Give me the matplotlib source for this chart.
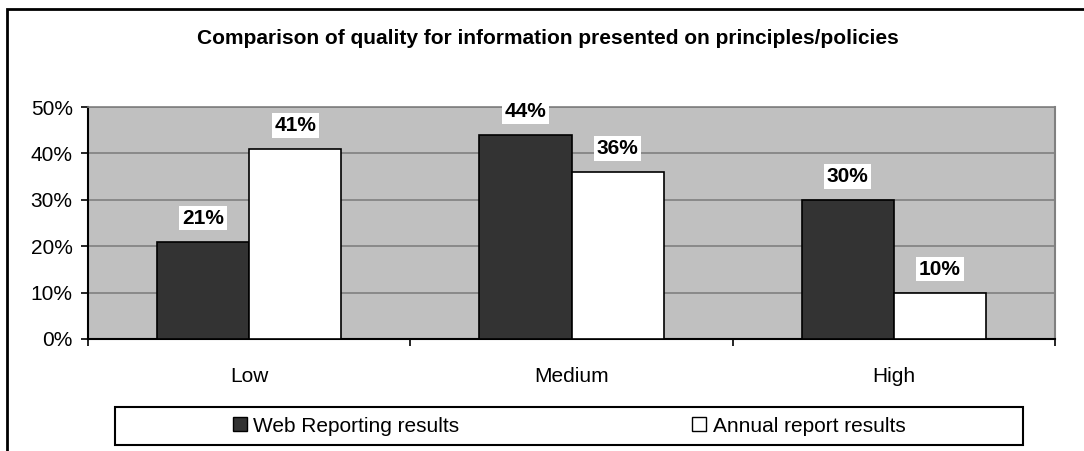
import matplotlib

matplotlib.use("Agg")
import matplotlib.pyplot as plt
import numpy as np
from matplotlib.patches import Patch, Rectangle

# Данные с графика
categories = ["Low", "Medium", "High"]
web_reporting = [21, 44, 30]
annual_report = [41, 36, 10]
series_names = ["Web Reporting results", "Annual report results"]
title = "Comparison of quality for information presented on principles/policies"

plt.rcParams["font.family"] = ["Liberation Sans", "DejaVu Sans"]
FS = 15

W, H = 1084, 451
fig = plt.figure(figsize=(W / 100, H / 100), dpi=100)

# внешняя рамка (справа и снизу уходит за край)
fig.patches.append(Rectangle((7 / W, -0.2), 1.2, 1 - 9 / H + 0.2, transform=fig.transFigure,
                             fill=False, edgecolor="black", linewidth=2))

ax = fig.add_axes([88 / W, 1 - 339 / H, (1055 - 88) / W, (339 - 107) / H])
ax.set_facecolor("#c0c0c0")

x = np.arange(len(categories))
width = 0.286
b1 = ax.bar(x - width / 2, web_reporting, width, color="#333333", edgecolor="black", linewidth=1.2, zorder=3)
b2 = ax.bar(x + width / 2, annual_report, width, color="white", edgecolor="black", linewidth=1.2, zorder=3)

for bars, vals in ((b1, web_reporting), (b2, annual_report)):
    for rect, v in zip(bars, vals):
        ax.annotate(f"{v}%", (rect.get_x() + rect.get_width() / 2, v), xytext=(0, 10),
                    textcoords="offset points", ha="center", va="bottom", fontsize=FS,
                    fontweight="bold", zorder=4,
                    bbox=dict(facecolor="white", edgecolor="none", pad=2))

ax.set_xlim(-0.5, len(categories) - 0.5)
ax.set_ylim(0, 50)
ax.set_yticks(np.arange(0, 51, 10))
ax.set_yticklabels([f"{t}%" for t in range(0, 51, 10)], fontsize=FS)
ax.yaxis.grid(True, color="#808080", linewidth=1.2, zorder=1)
ax.set_axisbelow(True)

ax.set_xticks(np.arange(len(categories) + 1) - 0.5)
ax.set_xticklabels([])
ax.set_xticks(x, minor=True)
ax.set_xticklabels(categories, minor=True, fontsize=FS)
ax.tick_params(axis="x", which="major", length=5, width=1.2, direction="out")
ax.tick_params(axis="x", which="minor", length=0, pad=20)
ax.tick_params(axis="y", length=5, width=1.2, pad=6)

ax.spines["left"].set_linewidth(1.5)
ax.spines["bottom"].set_linewidth(1.5)
ax.spines["right"].set_color("#808080")
ax.spines["right"].set_linewidth(1.5)
ax.spines["top"].set_color("#808080")
ax.spines["top"].set_linewidth(1.2)

fig.text(548 / W, 1 - 38 / H, title, ha="center", va="center", fontsize=FS, fontweight="bold")

# легенда в отдельной рамке
fig.patches.append(Rectangle((115 / W, 1 - 445 / H), (1023 - 115) / W, (445 - 407) / H,
                             transform=fig.transFigure, facecolor="white", edgecolor="black", linewidth=1.5))
handles = [Patch(facecolor="#333333", edgecolor="black"), Patch(facecolor="white", edgecolor="black")]
fig.legend(handles, series_names, loc="center", bbox_to_anchor=(569 / W, 1 - 426 / H), ncol=2,
           frameon=False, fontsize=FS, handlelength=0.67, handleheight=0.67, handletextpad=0.3,
           columnspacing=11.2)

fig.savefig("out.png", dpi=100)
